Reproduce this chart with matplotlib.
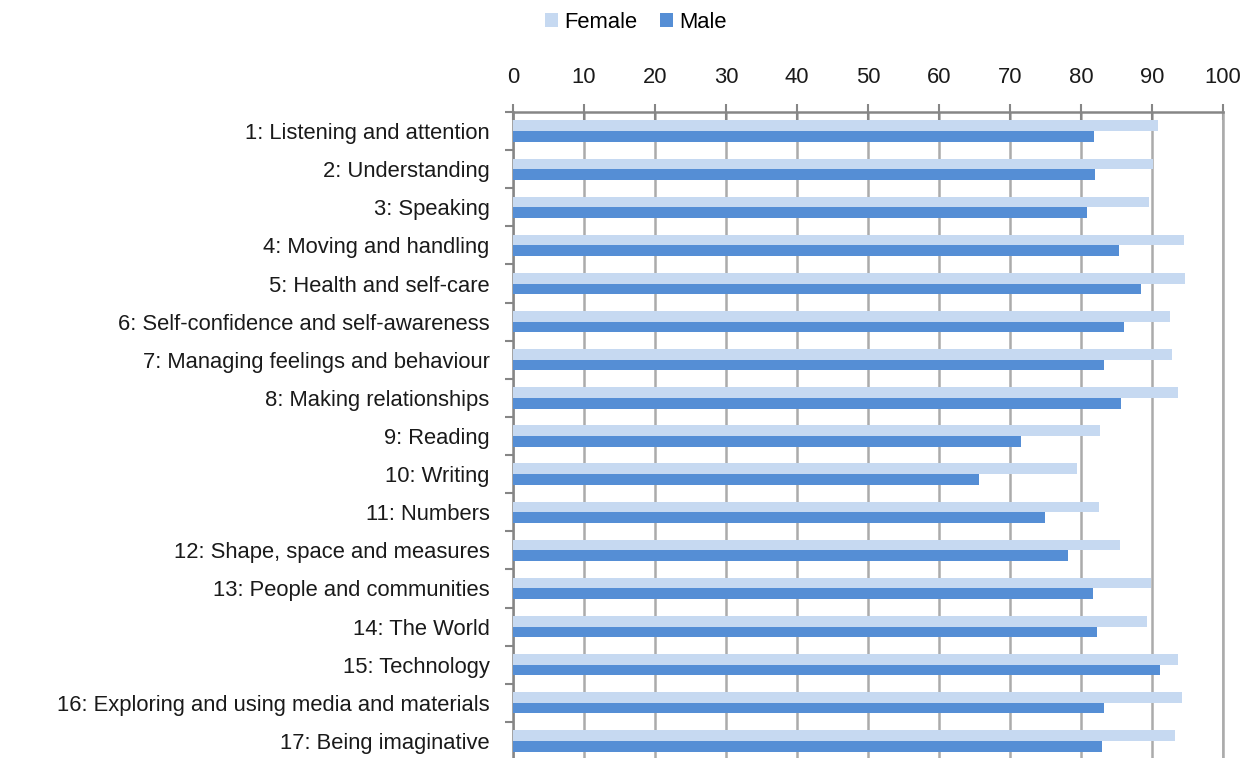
import numpy as np
import matplotlib
matplotlib.use("Agg")
import matplotlib.pyplot as plt

plt.rcParams["font.family"] = ["Liberation Sans", "DejaVu Sans"]

# Data (percent)
categories = [
    "1: Listening and attention",
    "2: Understanding",
    "3: Speaking",
    "4: Moving and handling",
    "5: Health and self-care",
    "6: Self-confidence and self-awareness",
    "7: Managing feelings and behaviour",
    "8: Making relationships",
    "9: Reading",
    "10: Writing",
    "11: Numbers",
    "12: Shape, space and measures",
    "13: People and communities",
    "14: The World",
    "15: Technology",
    "16: Exploring and using media and materials",
    "17: Being imaginative",
]
female = [90.9, 90.1, 89.6, 94.5, 94.6, 92.6, 92.8, 93.7, 82.7, 79.5,
          82.6, 85.5, 89.9, 89.3, 93.7, 94.2, 93.3]
male = [81.8, 82.0, 80.9, 85.4, 88.5, 86.0, 83.2, 85.6, 71.5, 65.7,
        74.9, 78.1, 81.7, 82.2, 91.1, 83.3, 82.9]
x_ticks = list(range(0, 101, 10))

C_FEMALE = "#c6d9f1"
C_MALE = "#558ed5"
GRID_C = "#ababab"
AXIS_C = "#868686"
TXT_C = "#1a1a1a"
FS = 15.8

W, H = 1251, 758
fig = plt.figure(figsize=(W / 100, H / 100), dpi=100)
# axes box in pixels: x 513..1223, y 112..760 (top-down)
ax = fig.add_axes([513 / W, 1 - 760 / H, (1223 - 513) / W, (760 - 112) / H])

y = np.arange(len(categories))
bh = 0.28
ax.barh(y - bh / 2, female, height=bh, color=C_FEMALE, label="Female", zorder=3)
ax.barh(y + bh / 2, male, height=bh, color=C_MALE, label="Male", zorder=3)

ax.set_xlim(0, 100)
ax.set_ylim(len(categories) - 0.5, -0.5)
ax.set_xticks(x_ticks)
ax.xaxis.tick_top()
ax.tick_params(axis="x", which="major", direction="inout", length=12,
               width=1.5, color=AXIS_C, labelsize=FS, pad=11, labelcolor=TXT_C)
ax.set_yticks(y)
ax.set_yticklabels(categories, fontsize=FS, color=TXT_C)
ax.set_yticks(np.arange(len(categories) + 1) - 0.5, minor=True)
ax.tick_params(axis="y", which="major", length=0, pad=17)
ax.tick_params(axis="y", which="minor", direction="out", length=6,
               width=1.5, color=AXIS_C)

ax.grid(axis="x", color=GRID_C, linewidth=1.8, zorder=0)
ax.spines["bottom"].set_visible(False)
ax.spines["right"].set_color(GRID_C)
ax.spines["right"].set_linewidth(1.8)
ax.spines["top"].set_color(AXIS_C)
ax.spines["top"].set_linewidth(1.8)
ax.spines["left"].set_color(AXIS_C)
ax.spines["left"].set_linewidth(1.8)

fig.legend(loc="center", bbox_to_anchor=(636 / W, 1 - 22 / H), ncol=2,
           frameon=False, fontsize=FS, handlelength=0.6, handleheight=0.6,
           handletextpad=0.3, columnspacing=1.0)

fig.savefig("out.png", dpi=100)
